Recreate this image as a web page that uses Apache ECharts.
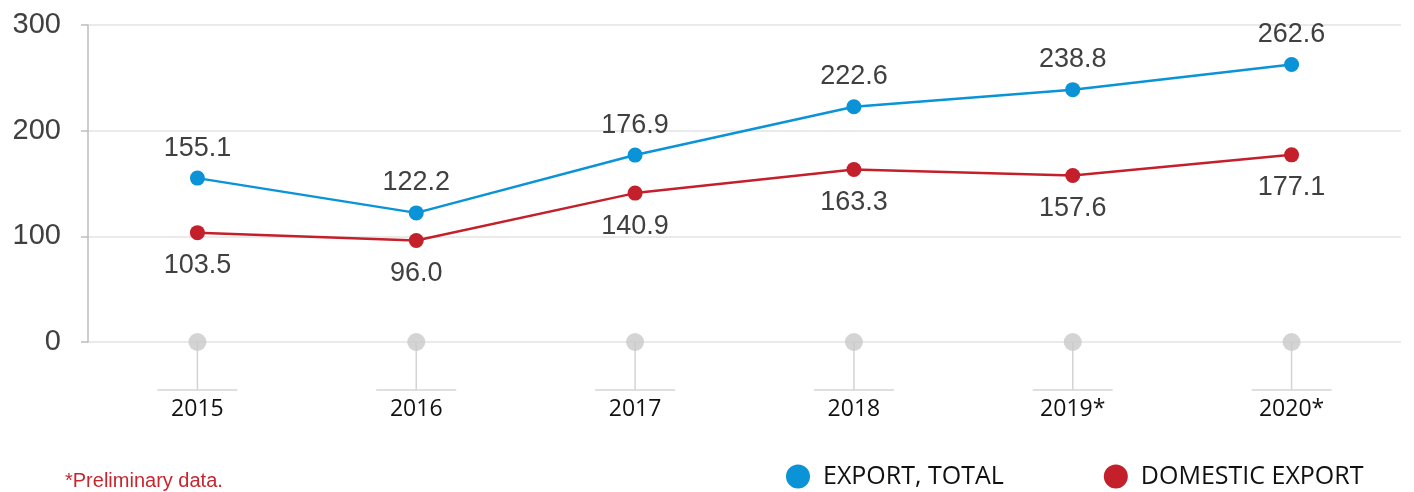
<!DOCTYPE html>
<html>
<head>
<meta charset="utf-8">
<script src="https://cdn.jsdelivr.net/npm/echarts@6/dist/echarts.min.js"></script>
<style>html,body{margin:0;padding:0;background:#fff;}#c{width:1414px;height:492px;}</style>
</head>
<body>
<div id="c"></div>
<script>
const categories = ['2015', '2016', '2017', '2018', '2019*', '2020*'];
const exportTotal = [155.1, 122.2, 176.9, 222.6, 238.8, 262.6];
const domesticExport = [103.5, 96.0, 140.9, 163.3, 157.6, 177.1];
const baseDots = [0, 0, 0, 0, 0, 0];
const yTicks = [0, 100, 200, 300];

const chart = echarts.init(document.getElementById('c'));
const labelFont = {fontFamily: 'Liberation Sans, Arial, sans-serif', fontSize: 27, color: '#404040'};
chart.setOption({
  animation: false,
  grid: {left: 88, right: 13, top: 25, bottom: 150},
  xAxis: {
    type: 'category', data: categories, boundaryGap: true,
    axisLine: {show: false}, axisTick: {show: false},
    axisLabel: {margin: 56, fontSize: 23, color: '#111', fontFamily: 'Open Sans, Noto Sans, sans-serif'}
  },
  yAxis: {
    type: 'value', min: yTicks[0], max: yTicks[yTicks.length - 1], interval: 100,
    axisLine: {show: true, lineStyle: {color: '#bdbdbd', width: 1.5}},
    axisTick: {show: true, length: 7, lineStyle: {color: '#bdbdbd', width: 1.5}},
    axisLabel: {margin: 27, fontSize: 29, color: '#404040', fontFamily: 'Liberation Sans, Arial, sans-serif'},
    splitLine: {lineStyle: {color: '#e3e3e3', width: 1.5}}
  },
  legend: {
    left: 781, top: 459, itemWidth: 24, itemHeight: 24, itemGap: 100,
    icon: 'circle',
    data: ['EXPORT, TOTAL', 'DOMESTIC EXPORT'],
    textStyle: {fontSize: 25, color: '#111', fontFamily: 'Open Sans, Noto Sans, sans-serif', padding: [0, 0, 0, 8]}
  },
  graphic: [{
    type: 'text', left: 65, top: 471,
    style: {text: '*Preliminary data.', fill: '#c8262e', fontSize: 20, fontFamily: 'Liberation Sans, Arial, sans-serif'}
  }],
  series: [
    {
      type: 'custom', silent: true, clip: false, z: 1,
      data: baseDots.map((v, i) => [i, v]),
      renderItem: function (params, api) {
        const p = api.coord([api.value(0), api.value(1)]);
        const st = {stroke: '#d4d4d4', lineWidth: 1.5};
        return {type: 'group', children: [
          {type: 'line', shape: {x1: p[0], y1: p[1], x2: p[0], y2: p[1] + 48}, style: st},
          {type: 'line', shape: {x1: p[0] - 40, y1: p[1] + 48, x2: p[0] + 40, y2: p[1] + 48}, style: st}
        ]};
      }
    },
    {
      type: 'scatter', data: baseDots, symbolSize: 18, z: 2, silent: true,
      itemStyle: {color: '#c9c9c9'}
    },
    {
      name: 'EXPORT, TOTAL', type: 'line', data: exportTotal, z: 5,
      symbol: 'circle', symbolSize: 15,
      lineStyle: {color: '#0a93d6', width: 2.5},
      itemStyle: {color: '#0a93d6'},
      label: Object.assign({show: true, position: 'top', distance: 9, formatter: p => p.value.toFixed(1)}, labelFont)
    },
    {
      name: 'DOMESTIC EXPORT', type: 'line', data: domesticExport, z: 5,
      symbol: 'circle', symbolSize: 15,
      lineStyle: {color: '#c3202b', width: 2.5},
      itemStyle: {color: '#c3202b'},
      label: Object.assign({show: true, position: 'bottom', distance: 12, formatter: p => p.value.toFixed(1)}, labelFont)
    }
  ]
});
</script>
</body>
</html>
